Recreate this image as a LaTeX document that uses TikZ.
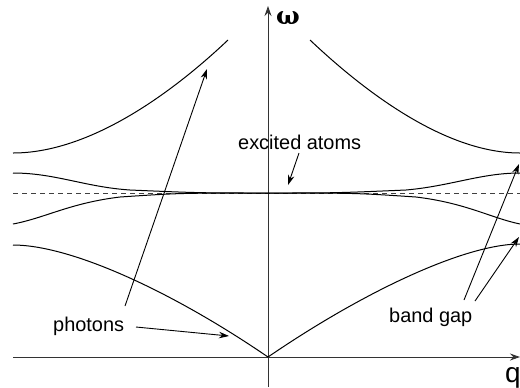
\documentclass[tikz,border=0pt]{standalone}
\usepackage{fontspec}
\setmainfont{Liberation Sans}
\newfontfamily\greekfont{DejaVu Serif}
\usetikzlibrary{arrows.meta}
\begin{document}
\begin{tikzpicture}[x=1bp,y=-1bp,
  axis/.style={draw=black!80,line width=0.9bp,-{Stealth[length=10bp,width=7bp]}},
  band/.style={draw=black,line width=1bp},
  pointer/.style={draw=black,line width=0.9bp,-{Stealth[length=10bp,width=6.5bp]}},
  lbl/.style={font=\fontsize{20}{24}\selectfont,inner sep=0pt,anchor=base west}]
\useasboundingbox (0,0) rectangle (520,387);
% axes
\coordinate (ybot) at (268,387);
\coordinate (ytop) at (268,6);
\coordinate (xl) at (13,357);
\coordinate (xr) at (520,357);
\draw[axis] (ybot) -- (ytop);
\draw[axis] (xl) -- (xr);
\node[font=\greekfont\bfseries\fontsize{25}{26}\selectfont,inner sep=0pt,anchor=base] (om) at (288,24) {ω};
\node[lbl,font=\fontsize{28}{30}\selectfont] (q) at (505,382) {q};
% dashed level
\coordinate (dl) at (13,193);
\coordinate (dr) at (520,193);
\draw[draw=black!75,line width=0.9bp,dash pattern=on 5bp off 4bp] (dl) -- (dr);
% bands
\draw[band] (13,153) .. controls (90,153) and (172,93) .. (228,40);
\draw[band] (310,40) .. controls (366,93) and (446,153) .. (520,153);
\draw[band] (13,173) .. controls (55,173) and (85,187) .. (130,190) .. controls (200,193) .. (268,193);
\draw[band] (268,193) .. controls (336,193) .. (406,190) .. controls (451,186) and (481,173) .. (520,173);
\draw[band] (13,224) .. controls (45,218) and (70,203) .. (120,197) .. controls (180,193) .. (268,193);
\draw[band] (268,193) .. controls (356,193) .. (416,197) .. controls (466,203) and (491,218) .. (520,224);
\draw[band] (13,245) .. controls (70,245) and (170,290) .. (268,357);
\draw[band] (268,357) .. controls (366,290) and (466,244) .. (520,244);
% labels
\node[lbl] (ex) at (238,149) {excited atoms};
\node[lbl] (ph) at (53,331) {photons};
\node[lbl] (bg) at (389,322) {band gap};
\coordinate (exs) at (299,153);
\coordinate (ext) at (288,185);
\coordinate (p1s) at (125,306);
\coordinate (p1t) at (207,69);
\coordinate (p2s) at (136,327);
\coordinate (p2t) at (229,336);
\coordinate (b1s) at (464,300);
\coordinate (b1t) at (519,164);
\coordinate (b2s) at (475,301);
\coordinate (b2t) at (519,237);
\draw[pointer] (exs) -- (ext);
\draw[pointer] (p1s) -- (p1t);
\draw[pointer] (p2s) -- (p2t);
\draw[pointer] (b1s) -- (b1t);
\draw[pointer] (b2s) -- (b2t);
\end{tikzpicture}
\end{document}
